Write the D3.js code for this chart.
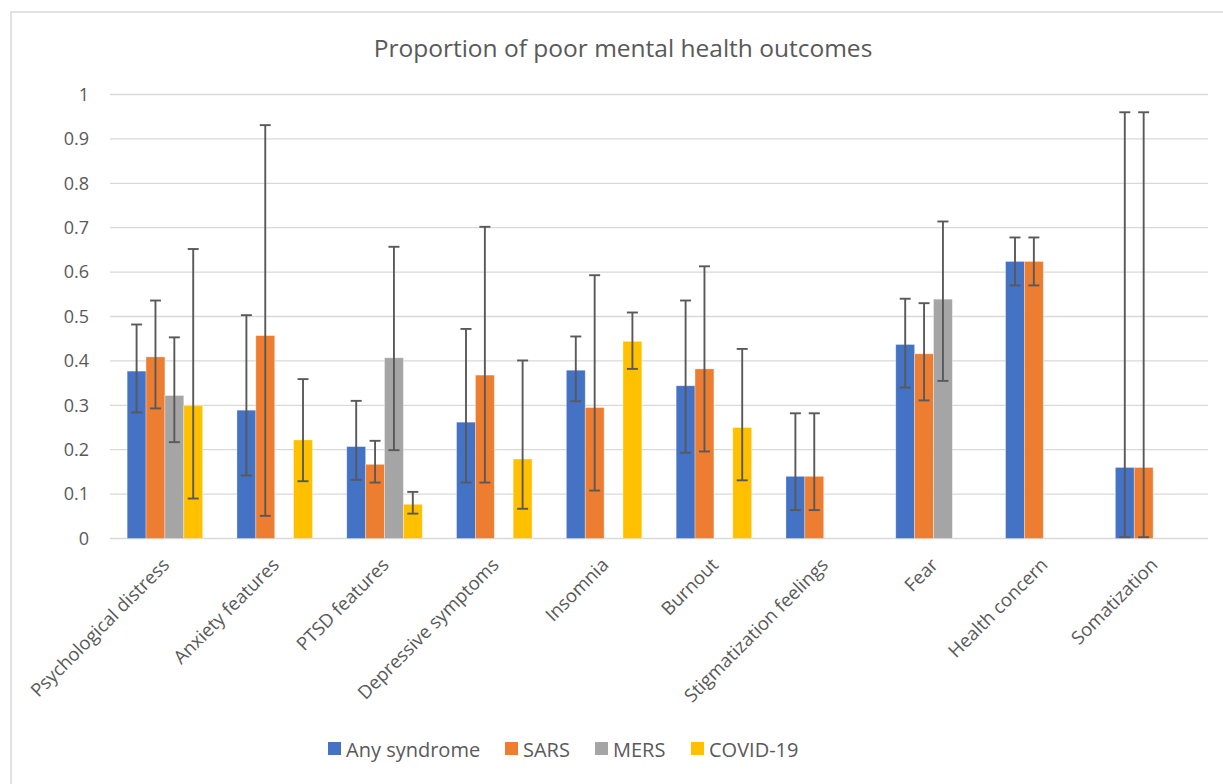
<!DOCTYPE html>
<html>
<head>
<meta charset="utf-8">
<script src="https://cdn.jsdelivr.net/npm/d3@7"></script>
<style>
  body { margin: 0; background: #fff; }
  text { font-family: "Open Sans", "Noto Sans", sans-serif; fill: #595959; }
</style>
</head>
<body>
<div id="chart"></div>
<script>
var categories = ["Psychological distress", "Anxiety features", "PTSD features", "Depressive symptoms",
    "Insomnia", "Burnout", "Stigmatization feelings", "Fear", "Health concern", "Somatization"];
var seriesNames = ["Any syndrome", "SARS", "MERS", "COVID-19"];
var seriesColors = ["#4472C4", "#ED7D31", "#A5A5A5", "#FFC000"];

// null = no bar for that syndrome
var anyValues   = [0.377, 0.289, 0.207, 0.262, 0.379, 0.344, 0.140, 0.437, 0.624, 0.160];
var anyLow      = [0.284, 0.142, 0.132, 0.126, 0.309, 0.193, 0.064, 0.340, 0.570, 0.003];
var anyHigh     = [0.482, 0.503, 0.310, 0.472, 0.455, 0.536, 0.282, 0.540, 0.678, 0.960];

var sarsValues  = [0.409, 0.457, 0.167, 0.368, 0.295, 0.382, 0.140, 0.416, 0.624, 0.160];
var sarsLow     = [0.293, 0.051, 0.126, 0.126, 0.108, 0.196, 0.064, 0.311, 0.570, 0.003];
var sarsHigh    = [0.536, 0.931, 0.220, 0.702, 0.593, 0.613, 0.282, 0.530, 0.678, 0.960];

var mersValues  = [0.322, null, 0.407, null, null, null, null, 0.539, null, null];
var mersLow     = [0.217, null, 0.199, null, null, null, null, 0.355, null, null];
var mersHigh    = [0.453, null, 0.657, null, null, null, null, 0.714, null, null];

var covidValues = [0.299, 0.222, 0.077, 0.179, 0.444, 0.250, null, null, null, null];
var covidLow    = [0.090, 0.129, 0.056, 0.067, 0.382, 0.131, null, null, null, null];
var covidHigh   = [0.652, 0.359, 0.105, 0.401, 0.509, 0.427, null, null, null, null];

var yTicks = [0, 0.1, 0.2, 0.3, 0.4, 0.5, 0.6, 0.7, 0.8, 0.9, 1];

var W = 1223, H = 784;
var margin = {left: 110, right: 15, top: 94.5, bottom: 245.5};

var allValues = [anyValues, sarsValues, mersValues, covidValues];
var allLow = [anyLow, sarsLow, mersLow, covidLow];
var allHigh = [anyHigh, sarsHigh, mersHigh, covidHigh];

var svg = d3.select("#chart").append("svg")
    .attr("width", W)
    .attr("height", H);

// chart area border (only top and left visible in the crop)
svg.append("rect")
    .attr("x", 11).attr("y", 12)
    .attr("width", W + 20).attr("height", H + 20)
    .attr("fill", "none")
    .attr("stroke", "#d9d9d9")
    .attr("stroke-width", 1.5);

var x0 = d3.scaleBand()
    .domain(categories)
    .range([margin.left, W - margin.right])
    .paddingInner(0.3125)
    .paddingOuter(0.15625);

var x1 = d3.scaleBand()
    .domain(d3.range(seriesNames.length))
    .range([0, x0.bandwidth()]);

var y = d3.scaleLinear()
    .domain([0, 1])
    .range([H - margin.bottom, margin.top]);

// gridlines
svg.append("g")
    .selectAll("line")
    .data(yTicks)
    .enter()
    .append("line")
    .attr("x1", margin.left)
    .attr("x2", W - margin.right)
    .attr("y1", function(d) { return y(d); })
    .attr("y2", function(d) { return y(d); })
    .attr("stroke", "#d9d9d9")
    .attr("stroke-width", 1.3);

// y axis labels
var yAxis = svg.append("g")
    .attr("transform", "translate(" + (margin.left - 21) + ",0)")
    .call(d3.axisLeft(y).tickValues(yTicks).tickSize(0).tickFormat(d3.format("")));
yAxis.select(".domain").remove();
yAxis.selectAll("text")
    .attr("x", 0)
    .style("font-size", "18px")
    .style("fill", "#595959")
    .style("font-family", "'Open Sans', sans-serif");

// bars
var rows = [];
categories.forEach(function(c, i) {
    for (var s = 0; s < seriesNames.length; s++) {
        if (allValues[s][i] !== null) {
            rows.push({cat: c, s: s, v: allValues[s][i], lo: allLow[s][i], hi: allHigh[s][i]});
        }
    }
});

svg.append("g")
    .selectAll("rect")
    .data(rows)
    .enter()
    .append("rect")
    .attr("x", function(d) { return x0(d.cat) + x1(d.s); })
    .attr("y", function(d) { return y(d.v); })
    .attr("width", x1.bandwidth())
    .attr("height", function(d) { return y(0) - y(d.v); })
    .attr("fill", function(d) { return seriesColors[d.s]; })
    .attr("stroke", "#fff")
    .attr("stroke-opacity", 0.4)
    .attr("stroke-width", 0.8);

// error bars
var eg = svg.append("g")
    .attr("stroke", "#595959")
    .attr("stroke-width", 1.9);
var capW = 5.5;
rows.forEach(function(d) {
    var cx = x0(d.cat) + x1(d.s) + x1.bandwidth() / 2;
    eg.append("line")
        .attr("x1", cx).attr("x2", cx)
        .attr("y1", y(d.hi)).attr("y2", y(d.lo));
    [d.hi, d.lo].forEach(function(v) {
        eg.append("line")
            .attr("x1", cx - capW).attr("x2", cx + capW)
            .attr("y1", y(v)).attr("y2", y(v));
    });
});

// x category labels
svg.append("g")
    .selectAll("text")
    .data(categories)
    .enter()
    .append("text")
    .attr("transform", function(d) {
        return "translate(" + (x0(d) + x0.bandwidth() / 2 + 1) + "," + (y(0) + 23) + ") rotate(-45)";
    })
    .attr("text-anchor", "end")
    .attr("dy", "0.35em")
    .style("font-size", "18.5px")
    .text(function(d) { return d; });

// title
svg.append("text")
    .attr("x", 623)
    .attr("y", 57)
    .attr("text-anchor", "middle")
    .style("font-size", "24.5px")
    .text("Proportion of poor mental health outcomes");

// legend
var legendX = [328, 505, 595, 691];
var lg = svg.append("g");
seriesNames.forEach(function(name, i) {
    lg.append("rect")
        .attr("x", legendX[i]).attr("y", 742)
        .attr("width", 13).attr("height", 13)
        .attr("fill", seriesColors[i]);
    lg.append("text")
        .attr("x", legendX[i] + 18)
        .attr("y", 757)
        .style("font-size", "20px")
        .text(name);
});
</script>
</body>
</html>
